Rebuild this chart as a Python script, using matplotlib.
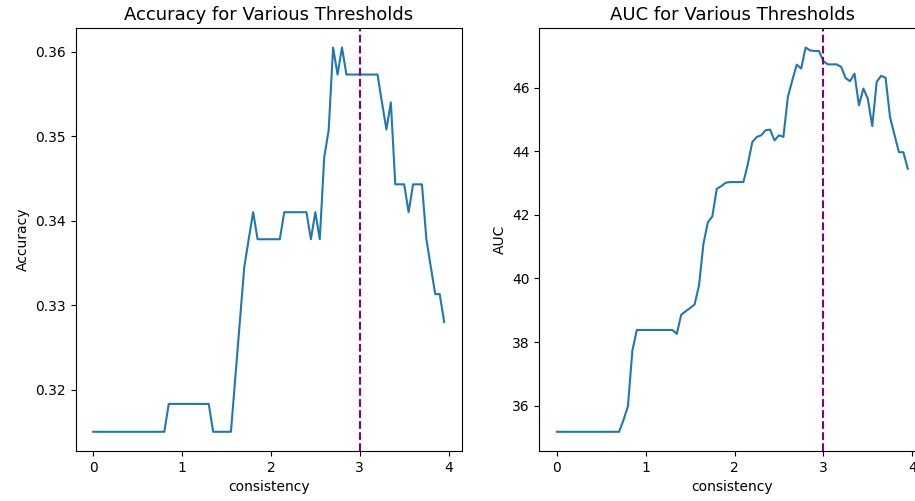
import numpy as np
import matplotlib
matplotlib.use("Agg")
import matplotlib.pyplot as plt

consistency = [round(i * 0.05, 2) for i in range(80)]

accuracy = (
    [0.3150] * 17
    + [0.3183] * 10
    + [0.3150] * 5
    + [0.3215, 0.3280, 0.3345, 0.3378, 0.3410]
    + [0.3378] * 6
    + [0.3410] * 6
    + [0.3378, 0.3410, 0.3378]
    + [0.3475, 0.3507, 0.3605, 0.3573, 0.3605]
    + [0.3573] * 8
    + [0.3540, 0.3508, 0.3540]
    + [0.3443] * 3
    + [0.3410]
    + [0.3443] * 3
    + [0.3378, 0.3345, 0.3313, 0.3313, 0.3280]
)

auc = (
    [35.18] * 15
    + [35.55, 35.98, 37.73]
    + [38.38] * 9
    + [38.26, 38.86, 38.97, 39.07, 39.18, 39.78, 41.09, 41.77, 41.95,
       42.82, 42.90, 43.01]
    + [43.03] * 4
    + [43.60, 44.29, 44.45, 44.50, 44.66, 44.68, 44.34, 44.50, 44.45,
       45.70, 46.23, 46.72, 46.60, 47.26, 47.17, 47.15, 47.15,
       46.83, 46.73, 46.73, 46.73, 46.65, 46.30, 46.20, 46.44,
       45.44, 45.97, 45.65, 44.79, 46.18, 46.37, 46.31,
       45.07, 44.52, 43.97, 43.97, 43.45]
)

x_ticks = [0, 1, 2, 3, 4]
threshold = 3

fig = plt.figure(figsize=(9.15, 5.01), dpi=100)
ax1 = fig.add_axes([0.0827, 0.0998, 0.4219, 0.8437])
ax2 = fig.add_axes([0.5894, 0.0998, 0.4219, 0.8437])

ax1.plot(consistency, accuracy)
ax1.axvline(threshold, color="purple", linestyle="--")
ax1.set_title("Accuracy for Various Thresholds", fontsize=13)
ax1.set_xlabel("consistency")
ax1.set_ylabel("Accuracy")
ax1.set_xticks(x_ticks)

ax2.plot(consistency, auc)
ax2.axvline(threshold, color="purple", linestyle="--")
ax2.set_title("AUC for Various Thresholds", fontsize=13)
ax2.set_xlabel("consistency")
ax2.set_ylabel("AUC")
ax2.set_xticks(x_ticks)

fig.savefig("out.png", dpi=100)
